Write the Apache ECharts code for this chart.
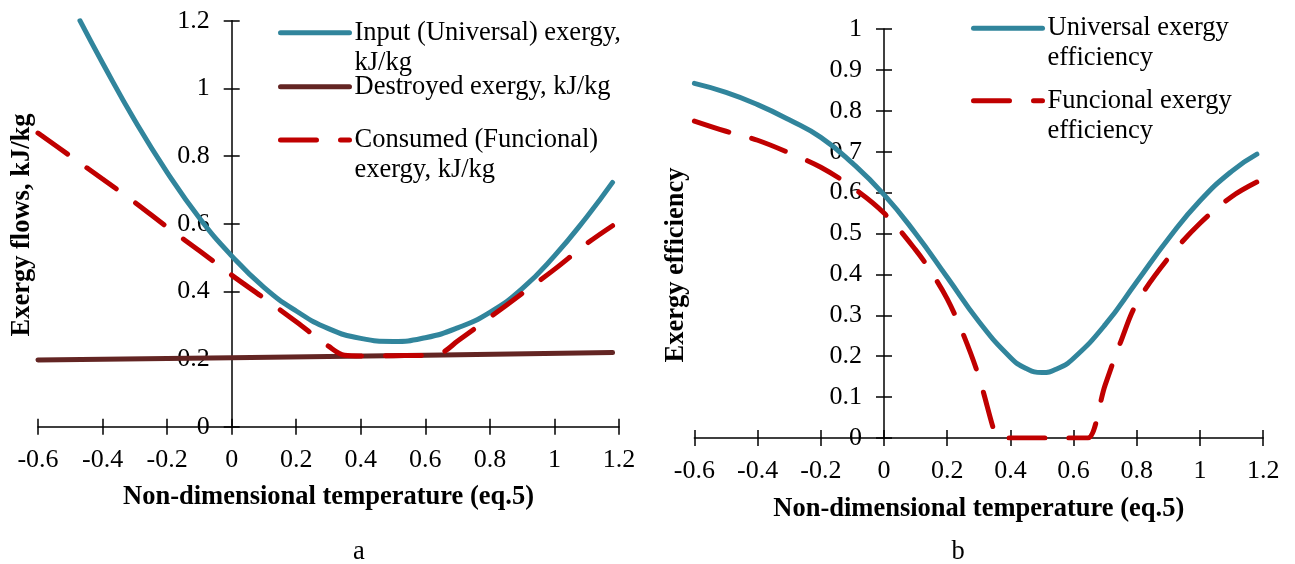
<!DOCTYPE html>
<html>
<head>
<meta charset="utf-8">
<script src="https://cdn.jsdelivr.net/npm/echarts@6/dist/echarts.min.js"></script>
<style>
  html, body { margin: 0; padding: 0; background: #fff; }
  #chart { width: 1295px; height: 564px; }
</style>
</head>
<body>
<div id="chart"></div>
<script>
// panel a: exergy flows, kJ/kg vs non-dimensional temperature
const inputT = [-0.47, -0.4, -0.3, -0.2, -0.1, 0, 0.1, 0.2, 0.3, 0.4, 0.5, 0.6, 0.7, 0.8, 0.9, 1.0, 1.1, 1.18];
const inputExergy = [1.2, 1.075, 0.905, 0.752, 0.617, 0.505, 0.412, 0.342, 0.29, 0.261, 0.252, 0.263, 0.292, 0.338, 0.408, 0.505, 0.62, 0.722];
const destroyedT = [-0.6, 0, 0.6, 1.18];
const destroyedExergy = [0.197, 0.204, 0.211, 0.219];
const consumedT = [-0.6, -0.5, -0.4, -0.3, -0.2, -0.1, 0, 0.1, 0.2, 0.3, 0.35, 0.4, 0.5, 0.6, 0.65, 0.7, 0.8, 0.9, 1.0, 1.1, 1.18];
const consumedExergy = [0.868, 0.8, 0.732, 0.663, 0.59, 0.52, 0.448, 0.38, 0.31, 0.238, 0.211, 0.209, 0.21, 0.211, 0.218, 0.253, 0.323, 0.394, 0.465, 0.541, 0.594];

// panel b: exergy efficiency
const universalT = [-0.6, -0.5, -0.4, -0.3, -0.2, -0.1, 0, 0.1, 0.2, 0.3, 0.4, 0.45, 0.5, 0.55, 0.6, 0.7, 0.8, 0.9, 1.0, 1.1, 1.18];
const universalEff = [0.867, 0.845, 0.815, 0.778, 0.735, 0.672, 0.595, 0.5, 0.393, 0.285, 0.197, 0.17, 0.16, 0.17, 0.195, 0.277, 0.382, 0.487, 0.58, 0.652, 0.694];
const functionalT = [-0.6, -0.5, -0.4, -0.3, -0.2, -0.1, 0, 0.1, 0.15, 0.2, 0.25, 0.3, 0.35, 0.36, 0.62, 0.645, 0.7, 0.75, 0.8, 0.9, 1.0, 1.1, 1.18];
const functionalEff = [0.775, 0.75, 0.728, 0.697, 0.662, 0.613, 0.55, 0.46, 0.405, 0.34, 0.255, 0.15, 0.013, 0, 0, 0, 0.13, 0.237, 0.33, 0.44, 0.525, 0.59, 0.626];

const names = {
  input: 'Input (Universal) exergy,\nkJ/kg',
  destroyed: 'Destroyed exergy, kJ/kg',
  consumed: 'Consumed (Funcional)\nexergy, kJ/kg',
  universal: 'Universal exergy\nefficiency',
  functional: 'Funcional exergy\nefficiency'
};

const FONT = 'Liberation Serif';
const BLUE = '#31859c', BROWN = '#632523', RED = '#c00000';
const LW = 5;
const DASH = [36, 24];

const pairs = (xs, ys) => xs.map((x, i) => [x, ys[i]]);

// y axes sit at x = 0, pushed inward with a negative offset
function axis(dim, grid, min, max, step, inner, extra) {
  const a = {
    type: 'value', gridIndex: grid, min: min, max: max, interval: step,
    axisLine: { show: !inner, onZero: false, lineStyle: { color: '#000', width: 1.5 } },
    axisTick: { show: true, inside: inner, length: 8, lineStyle: { color: '#000', width: 1.5 } },
    axisLabel: { show: !inner, color: '#000', fontFamily: FONT, fontSize: 26, margin: dim === 'x' ? 20 : 22 },
    splitLine: { show: false },
    position: dim === 'x' ? 'bottom' : 'left'
  };
  return Object.assign(a, extra || {});
}

const xName = (gap) => ({
  name: 'Non-dimensional temperature (eq.5)', nameLocation: 'middle', nameGap: gap, nameMoveOverlap: false,
  nameTextStyle: { color: '#000', fontFamily: FONT, fontSize: 26.5, fontWeight: 'bold' }
});

function legendItem(name, left, top, twoLines) {
  return {
    data: [name], left: left, top: top, orient: 'vertical', padding: 0,
    itemWidth: 69, itemHeight: 14,
    itemStyle: { opacity: 0 },
    lineStyle: { width: LW },
    formatter: twoLines ? '\n{name}' : '{name}',
    textStyle: { color: '#000', fontFamily: FONT, fontSize: 26.5, lineHeight: 30 }
  };
}

function line(name, data, color, xi, dashed) {
  return {
    name: name, type: 'line', xAxisIndex: xi, yAxisIndex: xi, data: data,
    smooth: dashed ? 0.35 : 0.5, symbol: 'none', showSymbol: false,
    lineStyle: { color: color, width: LW, type: dashed ? DASH : 'solid', cap: 'round', join: 'round' },
    itemStyle: { color: color },
    emphasis: { disabled: true }
  };
}

const chart = echarts.init(document.getElementById('chart'));
chart.setOption({
  animation: false,
  grid: [
    { left: 38, top: 20.7, width: 581, height: 406, outerBoundsMode: 'none' },
    { left: 694.4, top: 29, width: 568.8, height: 409, outerBoundsMode: 'none' }
  ],
  xAxis: [
    axis('x', 0, -0.6, 1.2, 0.2, false, xName(57)),
    axis('x', 0, -0.6, 1.2, 0.2, true),
    axis('x', 1, -0.6, 1.2, 0.2, false, xName(58)),
    axis('x', 1, -0.6, 1.2, 0.2, true)
  ],
  yAxis: [
    axis('y', 0, 0, 1.2, 0.2, false, { offset: -193.7 }),
    axis('y', 0, 0, 1.2, 0.2, true, { offset: -193.7 }),
    axis('y', 1, 0, 1, 0.1, false, { offset: -189.6 }),
    axis('y', 1, 0, 1, 0.1, true, { offset: -189.6 })
  ],
  legend: [
    legendItem(names.input, 278, -12.3, true),
    legendItem(names.destroyed, 278, 71.7, false),
    legendItem(names.consumed, 278, 95, true),
    legendItem(names.universal, 971, -16.7, true),
    legendItem(names.functional, 971, 55.7, true)
  ],
  graphic: [
    { type: 'text', x: 22, y: 225, rotation: Math.PI / 2,
      style: { text: 'Exergy flows, kJ/kg', font: 'bold 26.5px "Liberation Serif"', fill: '#000', align: 'center', verticalAlign: 'middle' } },
    { type: 'text', x: 676, y: 265, rotation: Math.PI / 2,
      style: { text: 'Exergy efficiency', font: 'bold 26.5px "Liberation Serif"', fill: '#000', align: 'center', verticalAlign: 'middle' } },
    { type: 'text', x: 359, y: 552,
      style: { text: 'a', font: '26.5px "Liberation Serif"', fill: '#000', align: 'center', verticalAlign: 'middle' } },
    { type: 'text', x: 958, y: 552,
      style: { text: 'b', font: '26.5px "Liberation Serif"', fill: '#000', align: 'center', verticalAlign: 'middle' } }
  ],
  series: [
    line(names.input, pairs(inputT, inputExergy), BLUE, 0, false),
    line(names.destroyed, pairs(destroyedT, destroyedExergy), BROWN, 0, false),
    line(names.consumed, pairs(consumedT, consumedExergy), RED, 0, true),
    line(names.universal, pairs(universalT, universalEff), BLUE, 2, false),
    line(names.functional, pairs(functionalT, functionalEff), RED, 2, true)
  ]
});
</script>
</body>
</html>
